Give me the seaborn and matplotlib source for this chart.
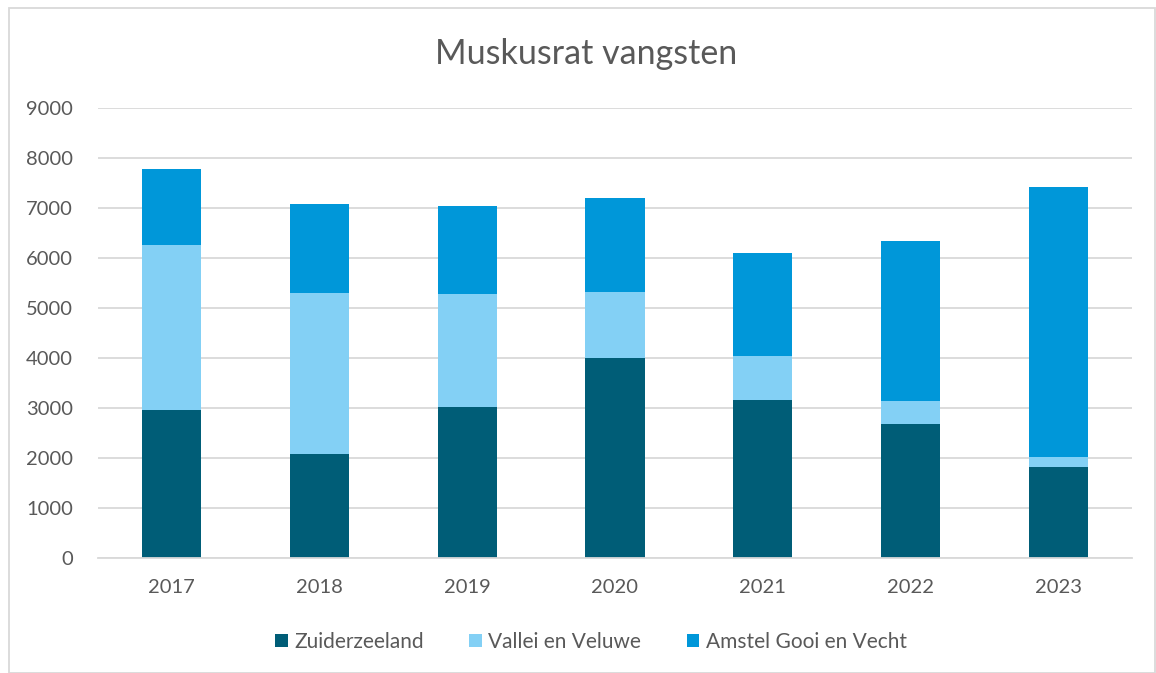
import matplotlib
matplotlib.use("Agg")
import matplotlib.pyplot as plt
import seaborn as sns
import numpy as np
from matplotlib.patches import Rectangle, Patch

years = ["2017", "2018", "2019", "2020", "2021", "2022", "2023"]
zuiderzeeland = [2970, 2080, 3020, 4000, 3170, 2690, 1830]
vallei_veluwe = [3300, 3230, 2270, 1320, 880, 460, 200]
amstel_gooi_vecht = [1520, 1780, 1750, 1890, 2060, 3190, 5400]
series_names = ["Zuiderzeeland", "Vallei en Veluwe", "Amstel Gooi en Vecht"]
colors = ["#005D77", "#83D0F5", "#0097D9"]

sns.set_theme(style="white")
plt.rcParams['font.family'] = ['Lato', 'DejaVu Sans']
text_color = "#595959"

fig = plt.figure(figsize=(11.56, 6.73), dpi=100)
ax = fig.add_axes([98/1156, 1-558/673, (1132-98)/1156, (558-108)/673])

bottom = np.zeros(len(years))
for name, vals, c in zip(series_names, [zuiderzeeland, vallei_veluwe, amstel_gooi_vecht], colors):
    sns.barplot(x=years, y=vals, bottom=bottom, color=c, width=0.4, ax=ax,
                linewidth=0, saturation=1, label=name)
    bottom = bottom + np.array(vals)

ax.set_ylim(0, 9000)
ax.set_yticks(range(0, 9001, 1000))
ax.set_xlim(-0.5, len(years) - 0.5)
ax.yaxis.grid(True, color="#D9D9D9", linewidth=1.3)
ax.set_axisbelow(True)
for s in ["top", "right", "left"]:
    ax.spines[s].set_visible(False)
ax.spines["bottom"].set_color("#D9D9D9")
ax.spines["bottom"].set_linewidth(1.3)
ax.tick_params(axis="y", length=0, pad=18, labelsize=14.5, labelcolor=text_color)
ax.tick_params(axis="x", length=0, pad=15, labelsize=14.5, labelcolor=text_color)
ax.set_xlabel("")
ax.set_ylabel("")

fig.text(586/1156, 1-54/673, "Muskusrat vangsten", ha="center", va="center",
         fontsize=24.5, color=text_color)

handles = [Patch(facecolor=c, edgecolor="none") for c in colors]
if ax.get_legend():
    ax.get_legend().remove()
fig.legend(handles, series_names, loc="center", bbox_to_anchor=(591/1156, 1-642/673),
           ncol=3, frameon=False, fontsize=15, labelcolor=text_color,
           handlelength=0.6, handleheight=0.6, handletextpad=0.3, columnspacing=2.2)

fig.patches.append(Rectangle((9/1156, 0), 1-9/1156 - 1/1156, 1-8/673, transform=fig.transFigure,
                             fill=False, edgecolor="#D9D9D9", linewidth=1.3))

fig.savefig("out.png", dpi=100)
